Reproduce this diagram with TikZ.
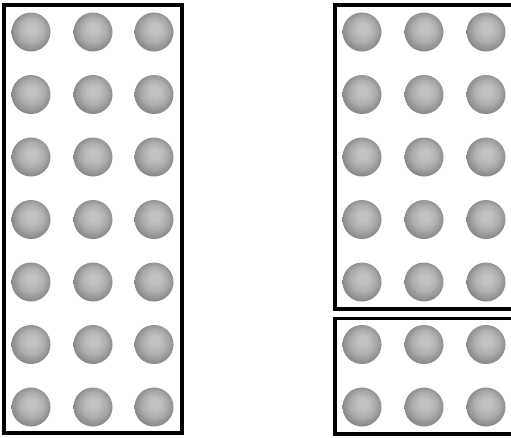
\documentclass[tikz,border=0pt]{standalone}
\usetikzlibrary{shadings}
\definecolor{sphHi}{HTML}{C2C2C2}
\definecolor{sphMid}{HTML}{ADADAD}
\definecolor{sphLo}{HTML}{8C8C8C}
\definecolor{sphEdge}{HTML}{777777}
\pgfdeclareradialshading{softsphere}{\pgfpoint{1bp}{5bp}}{%
  color(0bp)=(sphHi); color(6bp)=(sphHi); color(16bp)=(sphMid);
  color(25bp)=(sphLo); color(30bp)=(sphEdge); color(40bp)=(sphEdge)}
\begin{document}
\begin{tikzpicture}[x=1pt,y=-1pt,
  ball/.style={circle,inner sep=0pt,minimum size=39pt,shading=softsphere},
  frame/.style={draw=black,line width=3.5pt}]
\useasboundingbox (0,0) rectangle (511,437);
\clip (0,0) rectangle (511,437);
% frames
\draw[frame] (4,5) rectangle (182,433);
\draw[frame] (335,5) rectangle (516,309);
\draw[frame] (335,318.5) rectangle (516,434);
% left spheres
\foreach \r in {0,...,6}{
  \foreach \c [count=\ci] in {31,93,154}{
    \node[ball] (L\r-\ci) at (\c,{32+62.5*\r}) {};
  }
}
% right top spheres
\foreach \r in {0,...,4}{
  \foreach \c [count=\ci] in {362,424,486}{
    \node[ball] (T\r-\ci) at (\c,{32+62.5*\r}) {};
  }
}
% right bottom spheres
\foreach \r in {5,6}{
  \foreach \c [count=\ci] in {362,424,486}{
    \node[ball] (B\r-\ci) at (\c,{32+62.5*\r}) {};
  }
}
\end{tikzpicture}
\end{document}
